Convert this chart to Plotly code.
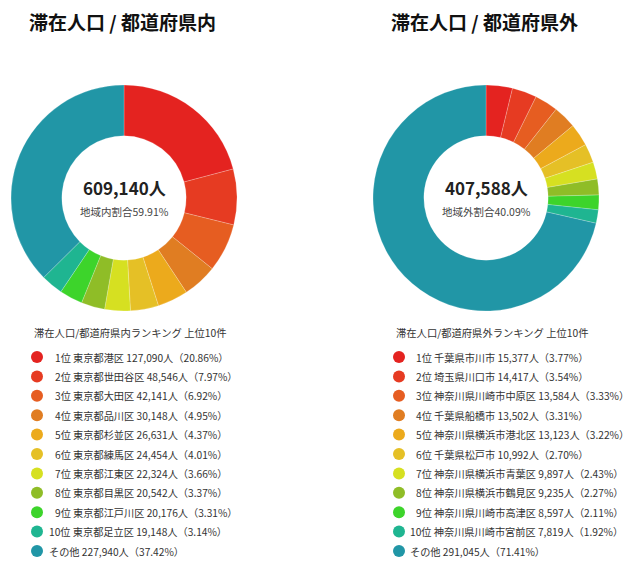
import plotly.graph_objects as go

W, H = 632, 570
FONT = "Noto Sans CJK JP"

colors = ["#e42320", "#e63b22", "#e65d21", "#e07d22", "#ecaa1c", "#e5c026",
          "#d6e021", "#8fbd27", "#3dd42b", "#1fb591", "#2196a6"]

in_names = ["東京都港区", "東京都世田谷区", "東京都大田区", "東京都品川区", "東京都杉並区",
            "東京都練馬区", "東京都江東区", "東京都目黒区", "東京都江戸川区", "東京都足立区", "その他"]
in_values = [127090, 48546, 42141, 30148, 26631, 24454, 22324, 20542, 20176, 19148, 227940]

out_names = ["千葉県市川市", "埼玉県川口市", "神奈川県川崎市中原区", "千葉県船橋市", "神奈川県横浜市港北区",
             "千葉県松戸市", "神奈川県横浜市青葉区", "神奈川県横浜市鶴見区", "神奈川県川崎市高津区",
             "神奈川県川崎市宮前区", "その他"]
out_values = [15377, 14417, 13584, 13502, 13123, 10992, 9897, 9235, 8597, 7819, 291045]

titles = ["滞在人口 / 都道府県内", "滞在人口 / 都道府県外"]
legend_titles = ["滞在人口/都道府県内ランキング 上位10件", "滞在人口/都道府県外ランキング 上位10件"]
share_labels = ["地域内割合59.91%", "地域外割合40.09%"]

fig = go.Figure()

panels = [
    dict(names=in_names, values=in_values, cx=124, r=113, mx=37, tx=53),
    dict(names=out_names, values=out_values, cx=486, r=113, mx=399, tx=414),
]
cy = 198

annotations = []
for k, p in enumerate(panels):
    x0, x1 = (p["cx"] - p["r"]) / W, (p["cx"] + p["r"]) / W
    y0, y1 = 1 - (cy + p["r"]) / H, 1 - (cy - p["r"]) / H
    fig.add_trace(go.Pie(
        labels=p["names"], values=p["values"], hole=0.55, sort=False,
        direction="clockwise", rotation=0, textinfo="none",
        marker=dict(colors=colors, line=dict(color="rgba(255,255,255,0.35)", width=0.6)),
        domain=dict(x=[x0, x1], y=[y0, y1]), showlegend=False, hoverinfo="label+value+percent",
    ))
    total = sum(p["values"])
    annotations.append(dict(x=p["cx"], y=cy - 11, xref="x", yref="y", text=f"<b>{total:,}人</b>",
                            showarrow=False, font=dict(size=17, color="#222", family=FONT)))
    annotations.append(dict(x=p["cx"], y=cy + 13, xref="x", yref="y", text=share_labels[k],
                            showarrow=False, font=dict(size=10.5, color="#444", family=FONT)))
    annotations.append(dict(x=p["cx"] - 2, y=21, xref="x", yref="y", text=f"<b>{titles[k]}</b>",
                            showarrow=False, font=dict(size=19, color="#111", family=FONT)))
    annotations.append(dict(x=p["mx"] - 5, y=332, xref="x", yref="y", text=legend_titles[k],
                            xanchor="left", showarrow=False, font=dict(size=10.3, color="#333", family=FONT)))
    ys = [357 + i * 19.4 for i in range(len(p["names"]))]
    fig.add_trace(go.Scatter(x=[p["mx"]] * len(ys), y=ys, mode="markers", xaxis="x", yaxis="y",
                             marker=dict(size=12, color=colors), showlegend=False, hoverinfo="skip"))
    for i, (n, v) in enumerate(zip(p["names"], p["values"])):
        pct = v / total * 100
        if i < 10:
            txt = f"{i+1}位 {n} {v:,}人（{pct:.2f}%）"
            tx = p["tx"] if i < 9 else p["tx"] - 6
        else:
            txt = f"{n} {v:,}人（{pct:.2f}%）"
            tx = p["tx"] - 6
        annotations.append(dict(x=tx, y=ys[i], xref="x", yref="y", text=txt, xanchor="left",
                                showarrow=False, font=dict(size=10.2, color="#333", family=FONT)))

fig.update_layout(
    width=W, height=H, margin=dict(l=0, r=0, t=0, b=0),
    paper_bgcolor="white", plot_bgcolor="rgba(0,0,0,0)",
    xaxis=dict(range=[0, W], visible=False, domain=[0, 1], fixedrange=True),
    yaxis=dict(range=[H, 0], visible=False, domain=[0, 1], fixedrange=True),
    annotations=annotations, font=dict(family=FONT),
)

fig.write_html("out.html")
